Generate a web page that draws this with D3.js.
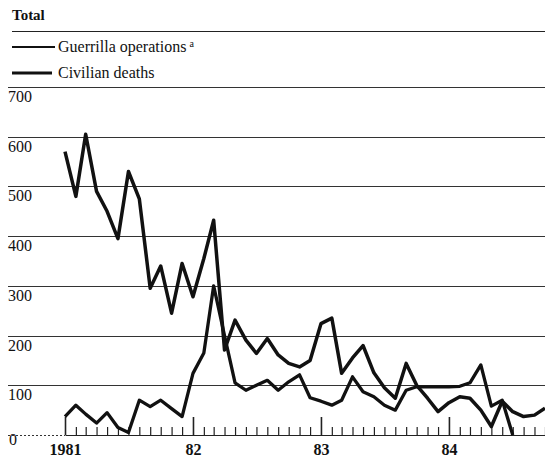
<!DOCTYPE html>
<html>
<head>
<meta charset="utf-8">
<script src="https://cdn.jsdelivr.net/npm/d3@7"></script>
<style>
  body { margin: 0; background: #fff; }
  svg { display: block; }
  text { font-family: "Liberation Serif", "DejaVu Serif", serif; fill: #111; }
</style>
</head>
<body>
<script>
// monthly data, Jan 1981 onwards
const startYear = 1981;
const civilianDeaths = [570, 480, 605, 490, 450, 395, 530, 475, 295, 340, 245, 345,
  278, 355, 432, 171, 231, 191, 164, 194, 161, 144, 137, 150,
  224, 235, 124, 155, 180, 125, 95, 74, 144, 100, 74, 47,
  65, 77, 74, 50, 17, 68, 47, 37, 40, 54];
const guerrillaOps = [37, 60, 42, 24, 45, 15, 5, 70, 57, 70, 53, 37,
  124, 165, 300, 200, 105, 90, 100, 110, 90, 107, 121, 75,
  68, 60, 70, 117, 87, 77, 60, 50, 90, 97, 97, 97,
  97, 98, 105, 141, 58, 70, 0];
const yTicks = [100, 200, 300, 400, 500, 600, 700];
const yearLabels = ["1981", "82", "83", "84"];

const width = 545, height = 461;
const svg = d3.select("body").append("svg")
    .attr("width", width).attr("height", height);

const monthDate = i => new Date(startYear, i, 1);

const x = d3.scaleTime()
    .domain([monthDate(0), monthDate(45)])
    .range([65, 545]);
const y = d3.scaleLinear()
    .domain([0, 700])
    .range([435, 87]);

// title + top rule
svg.append("text")
    .attr("x", 12).attr("y", 20)
    .style("font-size", "15px").style("font-weight", 700)
    .text("Total");
svg.append("line")
    .attr("x1", 12).attr("x2", 545).attr("y1", 31.5).attr("y2", 31.5)
    .attr("stroke", "#222").attr("stroke-width", 1);

// legend
svg.append("line")
    .attr("x1", 12).attr("x2", 55).attr("y1", 47).attr("y2", 47)
    .attr("stroke", "#111").attr("stroke-width", 2);
const lg = svg.append("text")
    .attr("x", 58).attr("y", 52)
    .style("font-size", "16px");
lg.append("tspan").text("Guerrilla operations");
lg.append("tspan").attr("dx", 3).attr("dy", -5).style("font-size", "10px").text("a");

svg.append("line")
    .attr("x1", 12).attr("x2", 52).attr("y1", 73).attr("y2", 73)
    .attr("stroke", "#111").attr("stroke-width", 3.2);
svg.append("text")
    .attr("x", 58).attr("y", 78)
    .style("font-size", "16px")
    .text("Civilian deaths");

// gridlines + y labels (labels sit under the line)
svg.append("g").selectAll("line")
    .data(yTicks)
    .join("line")
    .attr("x1", 8).attr("x2", 545)
    .attr("y1", d => Math.round(y(d)) + 0.5).attr("y2", d => Math.round(y(d)) + 0.5)
    .attr("stroke", "#333").attr("stroke-width", 1);

svg.append("g").selectAll("text")
    .data(yTicks)
    .join("text")
    .attr("x", 8)
    .attr("y", d => y(d) + 15)
    .style("font-size", "16px")
    .text(d => d);

svg.append("text")
    .attr("x", 9).attr("y", y(0) + 10)
    .style("font-size", "16px")
    .text("0");

// dotted baseline left of the axis
svg.append("line")
    .attr("x1", 8).attr("x2", 65).attr("y1", y(0) + 0.5).attr("y2", y(0) + 0.5)
    .attr("stroke", "#333").attr("stroke-dasharray", "2,2");

// x axis, ticks pointing up
const xAxis = d3.axisBottom(x)
    .ticks(d3.timeMonth.every(1))
    .tickSize(-8)
    .tickSizeOuter(0)
    .tickPadding(9)
    .tickFormat(d => d.getMonth() === 0 ? yearLabels[d.getFullYear() - startYear] : "");

const gx = svg.append("g")
    .attr("transform", `translate(0,${y(0)})`)
    .call(xAxis);
gx.select(".domain").attr("stroke", "#222").attr("stroke-width", 1);
gx.selectAll(".tick line").attr("stroke", "#222").attr("stroke-width", 1.2);
gx.selectAll(".tick").filter(d => d.getMonth() === 0)
    .select("line").attr("y2", -18).attr("stroke-width", 1.6);
gx.selectAll(".tick text")
    .style("font-family", "Liberation Serif, serif")
    .style("font-size", "16px")
    .style("font-weight", 700)
    .attr("fill", "#111");

// series
const line = d3.line()
    .x((d, i) => x(monthDate(i)))
    .y(d => y(d));

svg.append("path")
    .datum(guerrillaOps)
    .attr("d", line)
    .attr("fill", "none")
    .attr("stroke", "#111")
    .attr("stroke-width", 3.3)
    .attr("stroke-linejoin", "round");

svg.append("path")
    .datum(civilianDeaths)
    .attr("d", line)
    .attr("fill", "none")
    .attr("stroke", "#111")
    .attr("stroke-width", 3.5)
    .attr("stroke-linejoin", "round");
</script>
</body>
</html>
